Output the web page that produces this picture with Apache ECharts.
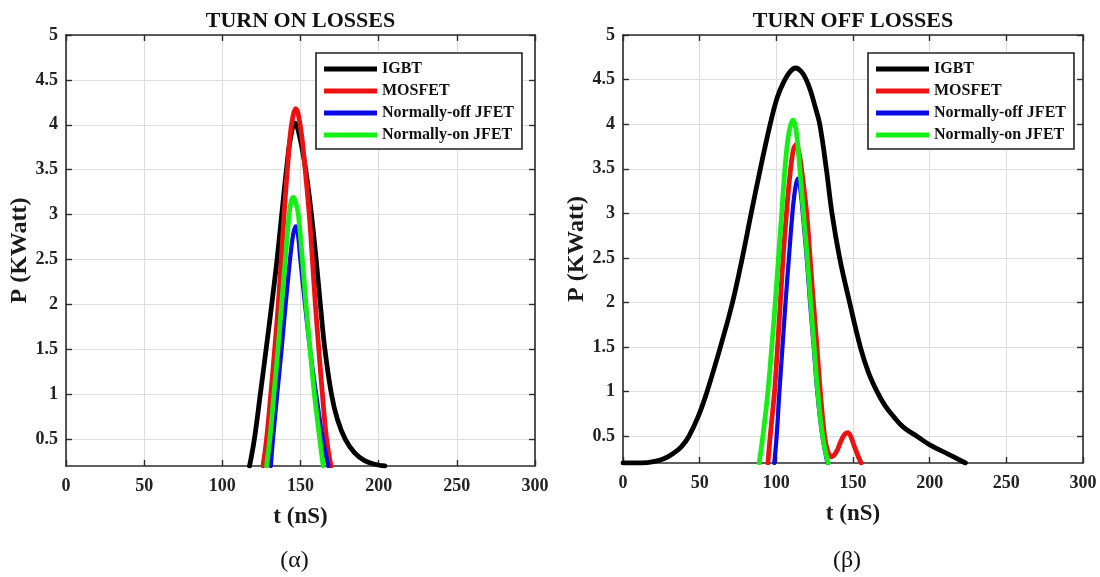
<!DOCTYPE html>
<html>
<head>
<meta charset="utf-8">
<script src="https://cdn.jsdelivr.net/npm/echarts@6/dist/echarts.min.js"></script>
<style>
  html, body { margin: 0; padding: 0; background: #fff; }
  #chart { width: 1100px; height: 577px; }
</style>
</head>
<body>
<div id="chart"></div>
<script>
// ---------- DATA ----------
const seriesNames = ['IGBT', 'MOSFET', 'Normally-off JFET', 'Normally-on JFET'];
const panelTitles = ['TURN ON LOSSES', 'TURN OFF LOSSES'];
const panelCaptions = ['(\u03B1)', '(\u03B2)'];
const xTicks = [0, 50, 100, 150, 200, 250, 300];
const yTicks = [0.5, 1, 1.5, 2, 2.5, 3, 3.5, 4, 4.5, 5];
const xName = 't (nS)';
const yName = 'P (KWatt)';

// Turn-on losses: [t (nS), P (kW)]
const onIGBT = [[117.4,0.2],[120.5,0.5],[124.3,1.0],[128,1.5],[131.6,2.0],[135,2.5],[138,3.0],[141,3.5],[143.6,3.85],[146.4,4.02],[149.3,3.88],[153.3,3.5],[157,3.0],[160,2.5],[162.7,2.0],[165.6,1.5],[169.8,1.0],[173.6,0.72],[178.6,0.5],[184.5,0.35],[191,0.26],[197.5,0.22],[204,0.2]];
const onMOSFET = [[126,0.2],[128.3,0.5],[131,1.0],[133.5,1.5],[135.8,2.0],[137.7,2.5],[139.5,3.0],[141.6,3.5],[144,3.97],[147,4.18],[150,3.97],[153,3.5],[155.6,3.0],[157.6,2.5],[159.5,2.0],[161.7,1.5],[164,1.0],[166.7,0.5],[169.5,0.2]];
const onNoff = [[131,0.2],[132.4,0.5],[135.1,1.0],[137.9,1.5],[140.5,2.0],[143.3,2.5],[145.3,2.78],[147,2.87],[148.5,2.76],[149.9,2.5],[152.9,2.0],[156.1,1.5],[160,1.0],[164.3,0.5],[167.8,0.2]];
const onNon = [[128.3,0.2],[130.4,0.5],[133,1.0],[135.6,1.5],[137.9,2.0],[140.3,2.5],[142.7,3.0],[144.1,3.15],[145.5,3.19],[147,3.13],[148.6,3.0],[151.2,2.5],[153.5,2.0],[156.1,1.5],[158.9,1.0],[162.3,0.5],[164.5,0.2]];

// Turn-off losses: [t (nS), P (kW)]
const offIGBT = [[0,0.2],[12,0.2],[20,0.215],[27,0.25],[33,0.31],[38,0.38],[43,0.5],[49,0.72],[54.8,1.0],[63.5,1.5],[71.4,2.0],[77.8,2.5],[83.6,3.0],[89.6,3.5],[96,4.0],[100.6,4.3],[105,4.48],[109,4.59],[112.6,4.63],[116.3,4.59],[119.2,4.51],[122.4,4.37],[125.4,4.19],[128.3,4.0],[132.6,3.5],[136.3,3.0],[141.3,2.5],[147.8,2.0],[154.8,1.5],[160,1.22],[165.7,1.0],[171,0.84],[176.5,0.72],[183,0.6],[191.7,0.5],[200.4,0.4],[212,0.3],[223.3,0.2]];
const offMOSFET = [[94.5,0.2],[96,0.5],[98.8,1.0],[100.8,1.5],[102.6,2.0],[104.4,2.5],[106.6,3.0],[109,3.45],[111.2,3.72],[113,3.77],[114.6,3.7],[116.8,3.45],[119.8,3.0],[122,2.5],[124.2,2.0],[126.5,1.5],[128.7,1.0],[131.5,0.5],[133.6,0.33],[136,0.27],[139,0.32],[142,0.44],[144.5,0.52],[146.5,0.54],[148.5,0.5],[151,0.38],[153.5,0.27],[155.3,0.2]];
const offNoff = [[98.7,0.2],[100.2,0.5],[102,1.0],[104,1.5],[106,2.0],[108.2,2.5],[110.5,3.0],[112.5,3.3],[114.1,3.39],[115.8,3.25],[117.5,2.95],[119.8,2.5],[122,2.0],[124.4,1.5],[126.7,1.0],[130,0.5],[133.4,0.2]];
const offNon = [[88.8,0.2],[91.2,0.5],[94.5,1.0],[97,1.5],[99.3,2.0],[101.4,2.5],[103.5,3.0],[105.6,3.5],[107.7,3.85],[109.5,4.0],[110.9,4.045],[112.4,3.98],[113.8,3.8],[115.3,3.5],[117.7,3.0],[120.2,2.5],[122.4,2.0],[124.7,1.5],[127,1.0],[130.2,0.5],[133.8,0.2]];

const panels = [
  [onIGBT, onMOSFET, onNoff, onNon],
  [offIGBT, offMOSFET, offNoff, offNon]
];

// ---------- STYLE ----------
const FONT = "'Liberation Serif', 'Times New Roman', serif";
const colors = ['#000000', '#ee1111', '#0a0ae6', '#14f014'];
const widths = [4.8, 4.8, 4.2, 4.8];
const grids = [
  { left: 66, top: 35, width: 469, height: 431 },
  { left: 623, top: 35, width: 460, height: 428 }
];
const legendPos = [{ left: 316, top: 53 }, { left: 868, top: 53 }];
const yNameGap = [33, 30];
const axisColor = '#2b2b2b';
const gridColor = '#dedede';

const xAxes = [], yAxes = [], series = [], legends = [], graphics = [];

panels.forEach((lines, p) => {
  xAxes.push({
    type: 'value', gridIndex: p, position: 'bottom', min: 0, max: 300, interval: 50,
    name: xName, nameLocation: 'middle', nameGap: 40,
    nameTextStyle: { fontFamily: FONT, fontWeight: 'bold', fontSize: 23, color: '#1a1a1a' },
    axisLine: { show: true, onZero: false, lineStyle: { color: axisColor, width: 1.6 } },
    axisTick: { show: true, inside: true, length: 6, lineStyle: { color: axisColor, width: 1.4 } },
    axisLabel: { fontFamily: FONT, fontWeight: 'bold', fontSize: 18, color: '#222', margin: 11 },
    splitLine: { show: true, lineStyle: { color: gridColor, width: 1.2 } }
  });
  xAxes.push({
    type: 'value', gridIndex: p, position: 'top', min: 0, max: 300, interval: 50,
    axisLine: { show: true, onZero: false, lineStyle: { color: axisColor, width: 1.6 } },
    axisTick: { show: true, inside: true, length: 6, lineStyle: { color: axisColor, width: 1.4 } },
    axisLabel: { show: false },
    splitLine: { show: false }
  });
  yAxes.push({
    type: 'value', gridIndex: p, position: 'left', min: 0.2, max: 5,
    name: yName, nameLocation: 'middle', nameGap: yNameGap[p], nameRotate: 90,
    nameTextStyle: { fontFamily: FONT, fontWeight: 'bold', fontSize: 24, color: '#1a1a1a' },
    axisLine: { show: true, onZero: false, lineStyle: { color: axisColor, width: 1.6 } },
    axisTick: { show: true, inside: true, length: 6, customValues: yTicks, lineStyle: { color: axisColor, width: 1.4 } },
    axisLabel: { customValues: yTicks, fontFamily: FONT, fontWeight: 'bold', fontSize: 18, color: '#222', margin: 8 },
    splitLine: { show: true, lineStyle: { color: gridColor, width: 1.2 } }
  });
  yAxes.push({
    type: 'value', gridIndex: p, position: 'right', min: 0.2, max: 5,
    axisLine: { show: true, onZero: false, lineStyle: { color: axisColor, width: 1.6 } },
    axisTick: { show: true, inside: true, length: 6, customValues: yTicks, lineStyle: { color: axisColor, width: 1.4 } },
    axisLabel: { show: false, customValues: yTicks },
    splitLine: { show: false }
  });
  lines.forEach((d, i) => {
    series.push({
      name: seriesNames[i], type: 'line', xAxisIndex: p * 2, yAxisIndex: p * 2,
      data: d, showSymbol: false, symbol: 'none', smooth: 0.4,
      lineStyle: { color: colors[i], width: widths[i], cap: 'round', join: 'round' },
      itemStyle: { color: colors[i] },
      z: 3 + i
    });
  });
  legends.push({
    show: true, orient: 'vertical', left: legendPos[p].left, top: legendPos[p].top,
    data: seriesNames, icon: 'rect', itemWidth: 53, itemHeight: 5, itemGap: 6,
    padding: [8, 8, 6, 8], selectedMode: false,
    backgroundColor: '#ffffff', borderColor: '#222', borderWidth: 1.6,
    textStyle: { fontFamily: FONT, fontWeight: 'bold', fontSize: 16, color: '#111' },
    z: 10
  });
  const cx = grids[p].left + grids[p].width / 2;
  graphics.push({
    type: 'text', x: cx, y: 21, z: 20,
    style: { text: panelTitles[p], align: 'center', verticalAlign: 'middle',
      fontFamily: FONT, fontWeight: 'bold', fontSize: 22, fill: '#111' }
  });
  graphics.push({
    type: 'text', x: cx - 6, y: 561, z: 20,
    style: { text: panelCaptions[p], align: 'center', verticalAlign: 'middle',
      fontFamily: FONT, fontWeight: 'normal', fontSize: 24, fill: '#111' }
  });
});

const chart = echarts.init(document.getElementById('chart'), null, { renderer: 'canvas' });
chart.setOption({
  animation: false,
  backgroundColor: '#ffffff',
  grid: grids,
  xAxis: xAxes,
  yAxis: yAxes,
  legend: legends,
  series: series,
  graphic: graphics
});
</script>
</body>
</html>
